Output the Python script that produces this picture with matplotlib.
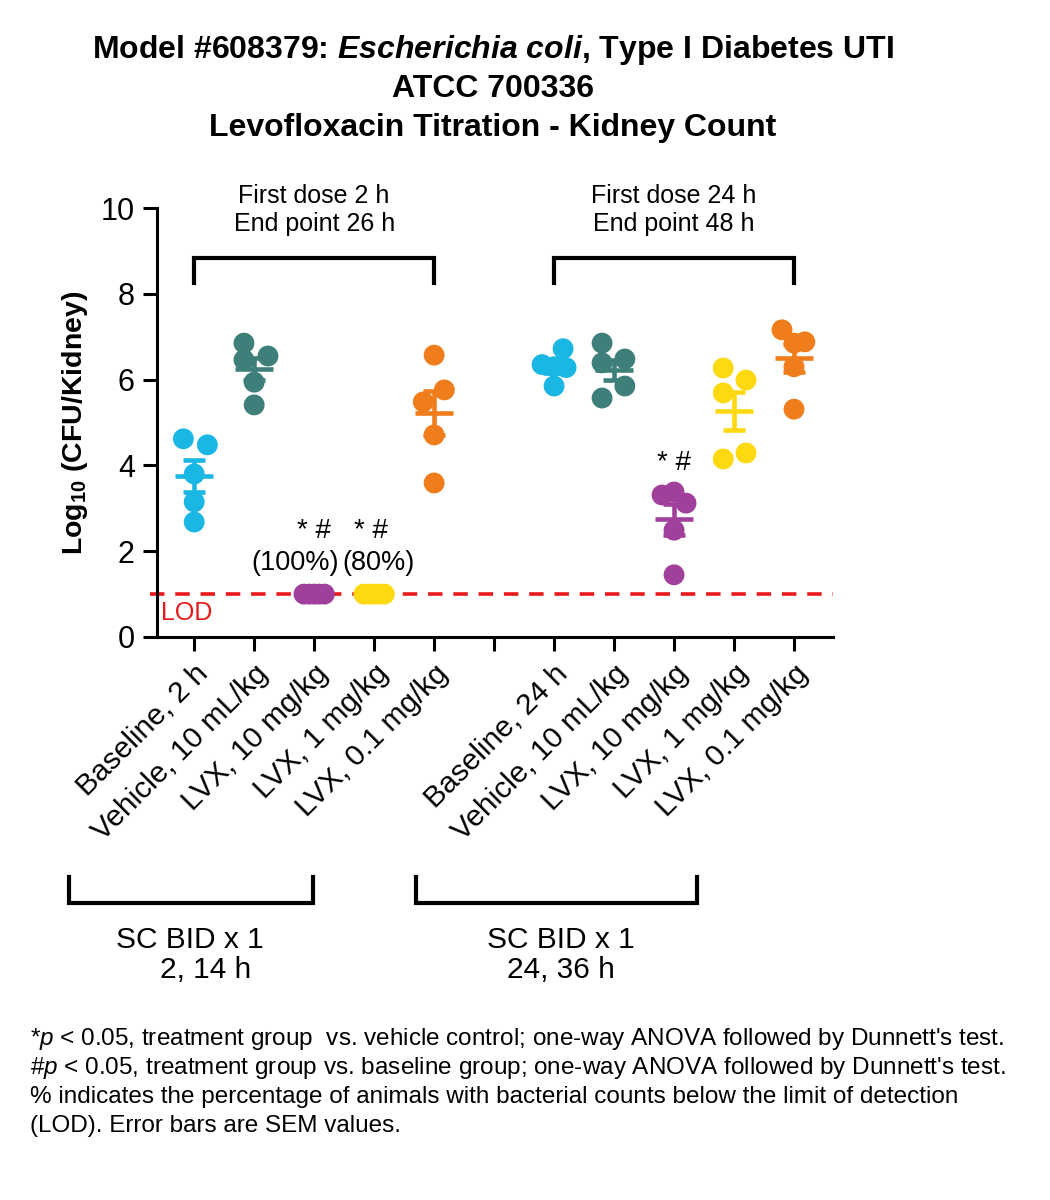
import numpy as np
import matplotlib
matplotlib.use("Agg")
import matplotlib.pyplot as plt
from matplotlib.lines import Line2D

plt.rcParams['font.family'] = ['Liberation Sans', 'DejaVu Sans']
plt.rcParams['mathtext.fontset'] = 'custom'
plt.rcParams['mathtext.it'] = 'Liberation Sans:italic'
plt.rcParams['mathtext.bf'] = 'Liberation Sans:italic:bold'
plt.rcParams['mathtext.rm'] = 'Liberation Sans'
plt.rcParams['mathtext.default'] = 'regular'

# group labels (slot 5 is an empty spacer)
groups = ["Baseline, 2 h", "Vehicle, 10 mL/kg", "LVX, 10 mg/kg", "LVX, 1 mg/kg", "LVX, 0.1 mg/kg",
          "",
          "Baseline, 24 h", "Vehicle, 10 mL/kg", "LVX, 10 mg/kg", "LVX, 1 mg/kg", "LVX, 0.1 mg/kg"]

# log10 CFU/kidney per animal
base_2h = [4.62, 4.48, 3.80, 3.15, 2.68]
veh_2h = [6.85, 6.46, 6.55, 5.94, 5.41]
lvx10_2h = [1.0, 1.0, 1.0, 1.0, 1.0]
lvx1_2h = [1.0, 1.0, 1.0, 1.0, 1.0]
lvx01_2h = [6.57, 5.76, 5.48, 4.71, 3.59]
base_24h = [6.72, 6.35, 6.30, 6.28, 5.85]
veh_24h = [6.85, 6.39, 6.48, 5.85, 5.57]
lvx10_24h = [3.31, 3.38, 3.12, 2.49, 1.45]
lvx1_24h = [6.27, 5.99, 5.69, 4.29, 4.15]
lvx01_24h = [7.16, 6.88, 6.85, 6.30, 5.31]

series = [base_2h, veh_2h, lvx10_2h, lvx1_2h, lvx01_2h, None,
          base_24h, veh_24h, lvx10_24h, lvx1_24h, lvx01_24h]

cyan = '#1ab6e4'
teal = '#3e7f7a'
purple = '#a1409b'
yellow = '#ffd90f'
orange = '#ef7d1c'
colors = [cyan, teal, purple, yellow, orange, None, cyan, teal, purple, yellow, orange]

# horizontal scatter spread of the dots (display only)
spread = [[-0.18, 0.22, 0, 0, 0],
          [-0.17, -0.17, 0.23, 0, 0],
          [-0.17, -0.085, 0, 0.085, 0.17],
          [-0.17, -0.085, 0, 0.085, 0.17],
          [0, 0.17, -0.18, 0, 0],
          None,
          [0.15, -0.2, 0, 0.2, 0],
          [-0.2, -0.2, 0.18, 0.18, -0.2],
          [-0.2, 0, 0.2, 0, 0],
          [-0.18, 0.2, -0.18, 0.2, -0.18],
          [-0.2, 0.18, 0, 0, 0]]

fig = plt.figure(figsize=(10.5, 12), dpi=100)
ax = fig.add_axes([157/1050, 1 - 637/1200, 676/1050, 429/1200])

for i, vals in enumerate(series):
    if vals is None:
        continue
    vals = np.array(vals)
    xs = i + np.array(spread[i])
    ax.scatter(xs, vals, s=225, color=colors[i], edgecolors='none', zorder=3, clip_on=False)
    m = vals.mean()
    sem = vals.std(ddof=1) / np.sqrt(len(vals))
    ax.plot([i - 0.32, i + 0.32], [m, m], color=colors[i], lw=3.3, zorder=4, solid_capstyle='butt')
    if sem > 0:
        ax.errorbar(i, m, yerr=sem, color=colors[i], lw=3.3, capsize=8, capthick=3.3, zorder=4)

# limit of detection
ax.axhline(1.0, xmin=-0.01, color='#e8191c', lw=2.6, ls=(0, (4, 3)), zorder=2, clip_on=False)
ax.text(-0.55, 0.55, "LOD", color='#e8191c', fontsize=18, va='center', ha='left')

ax.set_xlim(-0.62, 10.65)
ax.set_ylim(0, 10)
ax.set_yticks([0, 2, 4, 6, 8, 10])
ax.set_xticks(range(len(groups)))
ax.set_xticklabels(groups, rotation=45, ha='right', va='top', rotation_mode='anchor', fontsize=21.5)
ax.tick_params(axis='y', labelsize=22, width=2.2, length=10, pad=6)
ax.tick_params(axis='x', width=2.2, length=10, pad=6)
for s in ['top', 'right']:
    ax.spines[s].set_visible(False)
for s in ['left', 'bottom']:
    ax.spines[s].set_linewidth(2.2)
ax.set_ylabel(r"Log$_{10}$ (CFU/Kidney)", fontsize=20.5, fontweight='bold', labelpad=8)

# significance marks
ax.text(2, 2.48, "* #", ha='center', va='center', fontsize=20)
ax.text(1.69, 1.73, "(100%)", ha='center', va='center', fontsize=19.5)
ax.text(2.95, 2.48, "* #", ha='center', va='center', fontsize=20)
ax.text(3.08, 1.73, "(80%)", ha='center', va='center', fontsize=19.5)
ax.text(8, 4.05, "* #", ha='center', va='center', fontsize=20)

# top brackets
for a, b, t in [(0, 4, "First dose 2 h\nEnd point 26 h"), (6, 10, "First dose 24 h\nEnd point 48 h")]:
    ax.plot([a, a, b, b], [8.25, 8.84, 8.84, 8.25], color='black', lw=3, clip_on=False, solid_joinstyle='miter')
    ax.text((a + b) / 2, 9.95, t, ha='center', va='center', fontsize=18, linespacing=1.2)

# bottom brackets (figure pixels)
def fx(px):
    return px / 1050

def fy(py):
    return 1 - py / 1200

for x0, x1 in [(69, 313), (416, 697)]:
    fig.add_artist(Line2D([fx(x0), fx(x0), fx(x1), fx(x1)], [fy(877), fy(903), fy(903), fy(877)],
                          color='black', lw=3, solid_joinstyle='miter'))
fig.text(fx(190), fy(940), "SC BID x 1", ha='center', va='center', fontsize=21.5)
fig.text(fx(206), fy(970), "2, 14 h", ha='center', va='center', fontsize=21.5)
fig.text(fx(561), fy(940), "SC BID x 1", ha='center', va='center', fontsize=21.5)
fig.text(fx(561), fy(970), "24, 36 h", ha='center', va='center', fontsize=21.5)

# title
fig.text(fx(493), fy(50), r"Model #608379: $\mathbf{Escherichia\ coli}$, Type I Diabetes UTI",
         ha='center', va='center', fontsize=23, fontweight='bold')
fig.text(fx(493), fy(89), "ATCC 700336", ha='center', va='center', fontsize=23, fontweight='bold')
fig.text(fx(493), fy(128), "Levofloxacin Titration - Kidney Count", ha='center', va='center',
         fontsize=23, fontweight='bold')

# footnote
notes = [r"*$\mathit{p}$ < 0.05, treatment group  vs. vehicle control; one-way ANOVA followed by Dunnett's test.",
         r"#$\mathit{p}$ < 0.05, treatment group vs. baseline group; one-way ANOVA followed by Dunnett's test.",
         "% indicates the percentage of animals with bacterial counts below the limit of detection",
         "(LOD). Error bars are SEM values."]
for k, line in enumerate(notes):
    fig.text(fx(30), fy(1039 + k * 29), line, ha='left', va='center', fontsize=17.5)

fig.savefig("out.png", dpi=100)
